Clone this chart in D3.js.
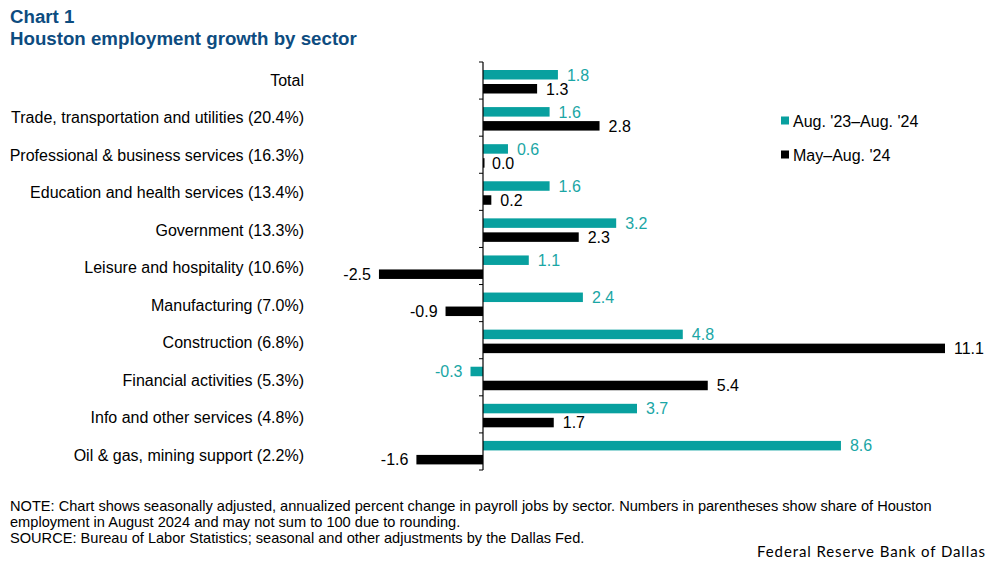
<!DOCTYPE html>
<html><head><meta charset="utf-8">
<script src="https://cdn.jsdelivr.net/npm/d3@7"></script>
<style>body{margin:0;background:#fff}svg{display:block}</style>
</head><body>
<svg id="c" width="997" height="565"></svg>
<script>
const categories = ["Total","Trade, transportation and utilities (20.4%)","Professional & business services (16.3%)","Education and health services (13.4%)","Government (13.3%)","Leisure and hospitality (10.6%)","Manufacturing (7.0%)","Construction (6.8%)","Financial activities (5.3%)","Info and other services (4.8%)","Oil & gas, mining support (2.2%)"];
const yearOverYear = [1.8,1.6,0.6,1.6,3.2,1.1,2.4,4.8,-0.3,3.7,8.6];
const mayAug = [1.3,2.8,0.0,0.2,2.3,-2.5,-0.9,11.1,5.4,1.7,-1.6];
const seriesNames = ["Aug. '23\u2013Aug. '24","May\u2013Aug. '24"];
const colors = ["#08A09F","#000000"];
const labelColors = ["#1AA6A5","#000000"];

const svg = d3.select("#c");
const F = "Arial, 'Liberation Sans', sans-serif";
const x = d3.scaleLinear().domain([0,11.1]).range([483,945]);
const y = d3.scaleBand().domain(categories).range([62,470]);
const yl = d3.scaleBand().domain(categories).range([62,474]);

svg.append("text").attr("x",10).attr("y",23).attr("fill","#0D4C80").attr("font-family",F).attr("font-weight","bold").attr("font-size",18.7).text("Chart 1");
svg.append("text").attr("x",10).attr("y",45).attr("fill","#0D4C80").attr("font-family",F).attr("font-weight","bold").attr("font-size",18.7).text("Houston employment growth by sector");

const series = [yearOverYear, mayAug];
const offs = [8, 22], bh = 9.5;
series.forEach((vals, s) => {
  const g = svg.append("g");
  g.selectAll("rect").data(vals).join("rect")
    .attr("x", d => Math.min(x(0), x(d)))
    .attr("width", d => Math.max(1.5, Math.abs(x(d)-x(0))))
    .attr("y", (d,i) => y(categories[i]) + offs[s])
    .attr("height", bh)
    .attr("fill", colors[s]);
  g.selectAll("text").data(vals).join("text")
    .attr("x", d => d < 0 ? x(d) - 8 : x(d) + 9)
    .attr("text-anchor", d => d < 0 ? "end" : "start")
    .attr("y", (d,i) => y(categories[i]) + offs[s] + bh/2)
    .attr("dy","0.36em")
    .attr("fill", labelColors[s]).attr("font-family",F).attr("font-size",16)
    .text(d => d3.format(".1f")(d).replace("−","-"));
});

// axis
const ax = svg.append("g");
ax.append("line").attr("x1",x(0)).attr("x2",x(0)).attr("y1",62).attr("y2",470).attr("stroke","#000").attr("stroke-width",1.2);
const bounds = categories.map(c => y(c)).concat([470]);
ax.selectAll("line.t").data(bounds).join("line").attr("class","t")
  .attr("x1",x(0)-4).attr("x2",x(0)).attr("y1",d=>d).attr("y2",d=>d).attr("stroke","#000").attr("stroke-width",1);

svg.append("g").selectAll("text").data(categories).join("text")
  .attr("x",304).attr("y",d=>yl(d)+yl.bandwidth()/2 - 0.5).attr("dy","0.36em")
  .attr("text-anchor","end").attr("font-family",F).attr("font-size",16).attr("fill","#000").text(d=>d);

// legend
const lg = svg.append("g");
seriesNames.forEach((n,i) => {
  const ly = 121 + i*34;
  lg.append("rect").attr("x",781).attr("y",ly-4.5).attr("width",8).attr("height",8).attr("fill",colors[i]);
  lg.append("text").attr("x",793).attr("y",ly).attr("dy","0.36em").attr("font-family",F).attr("font-size",16).text(n);
});

const notes = ["NOTE: Chart shows seasonally adjusted, annualized percent change in payroll jobs by sector. Numbers in parentheses show share of Houston","employment in August 2024 and may not sum to 100 due to rounding.","SOURCE: Bureau of Labor Statistics; seasonal and other adjustments by the Dallas Fed."];
notes.forEach((t,i)=>{
  svg.append("text").attr("x",10).attr("y",511+i*16).attr("font-family",F).attr("font-size",14.6).attr("fill","#000").text(t);
});
svg.append("text").attr("x",986).attr("y",557).attr("text-anchor","end").attr("font-family","Lato, 'Open Sans', sans-serif").attr("font-size",15).attr("letter-spacing",0.9).attr("fill","#000").text("Federal Reserve Bank of Dallas");
</script>
</body></html>
